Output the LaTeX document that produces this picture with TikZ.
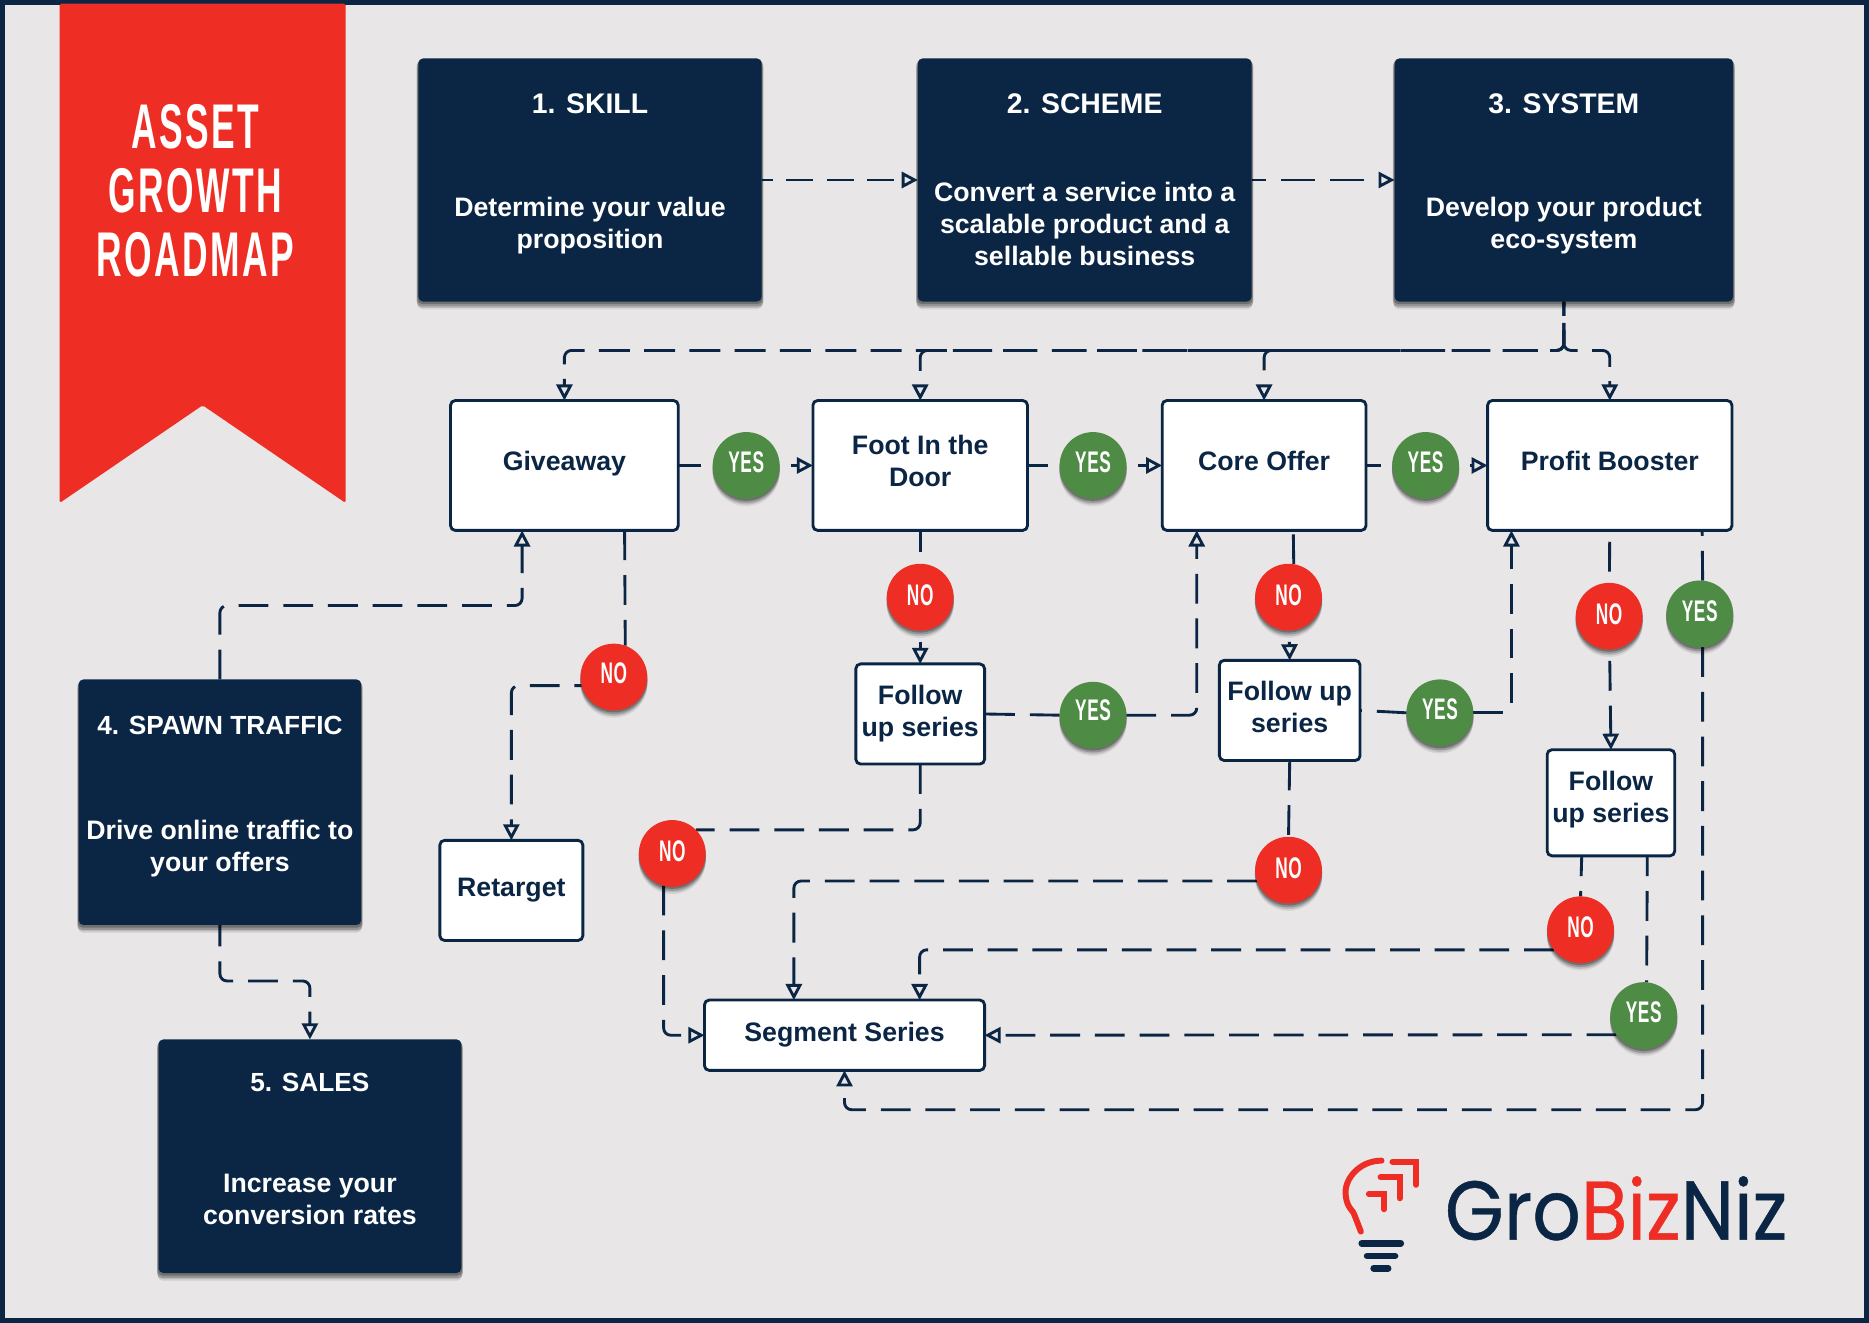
\documentclass[tikz,border=0pt]{standalone}
\usepackage{fontspec}
\usepackage{xcolor}
\usepackage{tikz}
\usetikzlibrary{arrows.meta,shadows}
\setmainfont{Liberation Sans}
\newfontfamily\titlefont[FakeStretch=0.56,LetterSpace=4]{Liberation Sans}
\newfontfamily\tallfont[FakeStretch=0.58,LetterSpace=2]{Liberation Sans}
\newfontfamily\logofont[FakeStretch=0.91,FakeBold=0.5]{Poppins}
\definecolor{navy}{HTML}{0A2644}
\definecolor{flag}{HTML}{EE2E24}
\definecolor{leaf}{HTML}{4E8B45}
\definecolor{pagebg}{HTML}{E8E6E7}
\newcommand{\lift}[1]{\rule[-#1pt]{0pt}{#1pt}}
\pgfdeclarelayer{links}
\pgfdeclarelayer{shapes}
\pgfsetlayers{main,links,shapes}
\tikzset{
  softshadow/.style={
    drop shadow={shadow xshift=0pt,shadow yshift=-6pt,shadow scale=1.005,opacity=0.07,fill=black},
    drop shadow={shadow xshift=0pt,shadow yshift=-4.5pt,shadow scale=1.008,opacity=0.12,fill=black},
    drop shadow={shadow xshift=0pt,shadow yshift=-3pt,shadow scale=1.01,opacity=0.2,fill=black},
    drop shadow={shadow xshift=0pt,shadow yshift=-1.5pt,shadow scale=1.006,opacity=0.25,fill=black}},
  darkbox/.style={fill=navy, rounded corners=4pt, inner sep=0pt, outer sep=0pt, softshadow},
  darkhead/.style={text=white, font=\bfseries\fontsize{23.8}{27}\selectfont, align=center},
  smallhead/.style={text=white, font=\bfseries\fontsize{22}{27}\selectfont, align=center},
  darktext/.style={text=white, font=\bfseries\fontsize{22.4}{26.8}\selectfont, align=center},
  flowbox/.style={draw=navy, fill=white, line width=2.4pt, rounded corners=4pt, inner sep=0pt, outer sep=0pt,
    text=navy, font=\bfseries\fontsize{22.4}{26.8}\selectfont, align=center},
  answer/.style={circle, minimum size=56pt, inner sep=0pt, outer sep=0pt, text=white,
    font=\tallfont\bfseries\fontsize{25}{25}\selectfont, softshadow},
  yes/.style={answer, fill=leaf},
  no/.style={answer, fill=flag},
  flow/.style={draw=navy, line width=2.4pt, dash pattern=on 25pt off 12.5pt, rounded corners=6pt},
  tip/.style={flow, -{Triangle[open,length=13.5pt,width=13.5pt,line width=2.4pt]}},
  logobar/.style={navy, line width=5.5pt, line cap=round},
  logoline/.style={flag, line width=5pt, line cap=round},
}
\begin{document}
\begin{tikzpicture}[x=1pt,y=-1pt]
  \useasboundingbox (0,0) rectangle (1568,1109.9);
  \fill[navy] (0,0) rectangle (1568,1109.9);
  \fill[pagebg] (4,4) rectangle (1564,1106);

  % banner
  \fill[flag,rounded corners=1.5pt] (50,3) -- (290,3) -- (290,422) -- (170,340) -- (50,422) -- cycle;
  \node[text=white,align=center,font=\titlefont\bfseries\fontsize{53}{54}\selectfont] (title) at (164,160) {ASSET\\GROWTH\\ROADMAP};

  \begin{pgfonlayer}{shapes}
  % dark boxes
  \node[darkbox,minimum width=288pt,minimum height=204pt] (skill) at (495,151) {};
  \node[darkbox,minimum width=280pt,minimum height=204pt] (scheme) at (910,151) {};
  \node[darkbox,minimum width=284pt,minimum height=204pt] (system) at (1312,151) {};
  \node[darkbox,minimum width=237pt,minimum height=206pt] (spawn) at (184.5,673) {};
  \node[darkbox,minimum width=254pt,minimum height=196pt] (sales) at (260,970) {};

  \node[darkhead] (skillhead) at (495,87) {1. SKILL};
  \node[darkhead] (schemehead) at (910,87) {2. SCHEME};
  \node[darkhead] (systemhead) at (1312,87) {3. SYSTEM};
  \node[smallhead] (spawnhead) at (184.5,608.5) {4. SPAWN TRAFFIC};
  \node[smallhead] (saleshead) at (260,908.5) {5. SALES};

  \node[darktext] (skilltext) at (495,189.5) {Determine your value\\proposition};
  \node[darktext] (schemetext) at (910,188) {Convert a service into a\\scalable product and a\\sellable business};
  \node[darktext] (systemtext) at (1312,189.5) {Develop your product\\eco-system};
  \node[darktext] (spawntext) at (184.5,712) {Drive online traffic to\\your offers};
  \node[darktext] (salestext) at (260,1006) {Increase your\\conversion rates};

  % white boxes
  \node[flowbox,minimum width=191pt,minimum height=109pt] (giveaway) at (473.5,390.5) {Giveaway\lift{8}};
  \node[flowbox,minimum width=180pt,minimum height=109pt] (foot) at (772,390.5) {Foot In the\\Door\lift{7}};
  \node[flowbox,minimum width=171pt,minimum height=109pt] (core) at (1060.5,390.5) {Core Offer\lift{7}};
  \node[flowbox,minimum width=205pt,minimum height=109pt] (profit) at (1350.5,390.5) {Profit Booster\lift{7}};
  \node[flowbox,minimum width=108pt,minimum height=84pt] (followfoot) at (772,599) {Follow\\up series\lift{4}};
  \node[flowbox,minimum width=118pt,minimum height=84pt] (followcore) at (1082,596) {Follow up\\series\lift{6}};
  \node[flowbox,minimum width=107pt,minimum height=89pt] (followprofit) at (1351.5,673.5) {Follow\\up series\lift{10}};
  \node[flowbox,minimum width=120pt,minimum height=84pt] (retarget) at (429,747) {Retarget\lift{6}};
  \node[flowbox,minimum width=235pt,minimum height=59pt] (segment) at (708.5,868.5) {Segment Series\lift{6}};

  % answers
  \node[yes] (yesgive) at (626,390.5) {YES\lift{6}};
  \node[yes] (yesfoot) at (917,390.5) {YES\lift{6}};
  \node[yes] (yescore) at (1196,390.5) {YES\lift{6}};
  \node[yes] (yesprofit) at (1426,515) {YES\lift{4}};
  \node[yes] (yesfollowfoot) at (917,600) {YES\lift{8}};
  \node[yes] (yesfollowcore) at (1208,598) {YES\lift{6}};
  \node[yes] (yesfollowprofit) at (1379,852) {YES\lift{6}};
  \node[no] (nogive) at (515,568) {NO\lift{6}};
  \node[no] (nofoot) at (772,501) {NO\lift{4}};
  \node[no] (nocore) at (1081,501) {NO\lift{4}};
  \node[no] (noprofit) at (1350,517) {NO\lift{4}};
  \node[no] (nofollowfoot) at (564,716) {NO\lift{4}};
  \node[no] (nofollowcore) at (1081,730) {NO\lift{4}};
  \node[no] (nofollowprofit) at (1326,780) {NO\lift{4}};
  \end{pgfonlayer}

  \begin{pgfonlayer}{links}
  % top row
  \draw[tip,dash pattern=on 23pt off 11pt,dash phase=13.6pt] (skill.east) -- (scheme.west);
  \draw[tip,dash pattern=on 28.5pt off 12.7pt,dash phase=16.5pt] (scheme.east) -- (system.west);
  \draw[tip,dash pattern=on 26pt off 12pt,dash phase=14pt] (system.south) -- ++(0,41) -| (giveaway.north);
  \draw[tip,dash pattern=on 28pt off 14.07pt,dash phase=24pt] (system.south) -- ++(0,41) -| (foot.north);
  \draw[tip,dash pattern=on 29pt off 13.86pt,dash phase=25pt] (system.south) -- ++(0,41) -| (core.north);
  \draw[tip,dash pattern=on 26pt off 12pt,dash phase=14pt] (system.south) -- ++(0,41) -| (profit.north);

  % offer row
  \draw[flow] (yesgive.center) -- (giveaway.east);
  \draw[tip] (yesgive.center) -- (foot.west);
  \draw[flow] (yesfoot.center) -- (foot.east);
  \draw[tip] (yesfoot.center) -- (core.west);
  \draw[flow] (yescore.center) -- (core.east);
  \draw[tip] (yescore.center) -- (profit.west);

  % below giveaway
  \draw[flow] ([xshift=50.5pt]giveaway.south) -- (nogive.70);
  \draw[tip,dash phase=19pt] (nogive.195) -| (retarget.north);
  \draw[tip] (spawn.north) |- ([xshift=-35.5pt,yshift=-63pt]giveaway.south) -- ([xshift=-35.5pt]giveaway.south);
  \draw[tip,dash phase=7pt] (spawn.south) |- ([yshift=49pt]sales.north) -- (sales.north);

  % below foot in the door
  \draw[flow] (nofoot.center) -- (foot.south);
  \draw[tip] (nofoot.center) -- (followfoot.north);
  \draw[flow] (yesfollowfoot.west) -- (followfoot.east);
  \draw[tip] (yesfollowfoot.east) -| ([xshift=-56.5pt]core.south);
  \draw[flow] (followfoot.south) |- (nofollowfoot.45);
  \draw[tip] (nofollowfoot.255) |- (segment.west);

  % below core offer
  \draw[flow] (nocore.81) -- ([xshift=24.5pt]core.south);
  \draw[tip] (nocore.center) -- (followcore.north);
  \draw[flow] (yesfollowcore.west) -- (followcore.east);
  \draw[tip] (yesfollowcore.east) -| ([xshift=-82.5pt]profit.south);
  \draw[flow] (followcore.south) -- (nofollowcore.north);
  \draw[tip] (nofollowcore.199) -| ([xshift=-42.5pt]segment.north);

  % below profit booster
  \draw[flow] (noprofit.center) -- (profit.south);
  \draw[tip] (noprofit.center) -- (followprofit.north);
  \draw[flow] (yesprofit.85) -- ([xshift=77.5pt]profit.south);
  \draw[tip] (yesprofit.275) |- ([yshift=-33pt]segment.south) -- (segment.south);
  \draw[flow,dash phase=8pt] ([xshift=-24.5pt]followprofit.south) -- (nofollowprofit.north);
  \draw[tip] (nofollowprofit.217) -| ([xshift=63pt]segment.north);
  \draw[flow,dash phase=8pt] ([xshift=30.5pt]followprofit.south) -- (yesfollowprofit.85);
  \draw[tip] (yesfollowprofit.215) -- (segment.east);
  \end{pgfonlayer}

  % logo
  \draw[logoline] (1159,973.7) .. controls (1140,973.7) and (1127,990) .. (1129,1003) .. controls (1130,1014) and (1136,1016) .. (1136.3,1019.3) -- (1141.7,1033.3);
  \draw[logoline] (1168.2,974.6) -- (1188,974.6) -- (1188,994);
  \draw[logoline] (1158.2,987.7) -- (1174.3,987.7) -- (1174.3,1005.3);
  \draw[logoline] (1148.4,1001.7) -- (1161.2,1001.7) -- (1161.2,1014.5);
  \draw[logobar] (1142.4,1043) -- (1175.2,1043);
  \draw[logobar] (1146.9,1053.7) -- (1170.4,1053.7);
  \draw[logobar] (1152.4,1064) -- (1164.6,1064);
  \node[anchor=base west,inner sep=0pt,text=navy,font=\logofont\fontsize{70}{70}\selectfont] (brand) at (1212,1040) {Gro{\color{flag}Biz}Niz};
\end{tikzpicture}
\end{document}
